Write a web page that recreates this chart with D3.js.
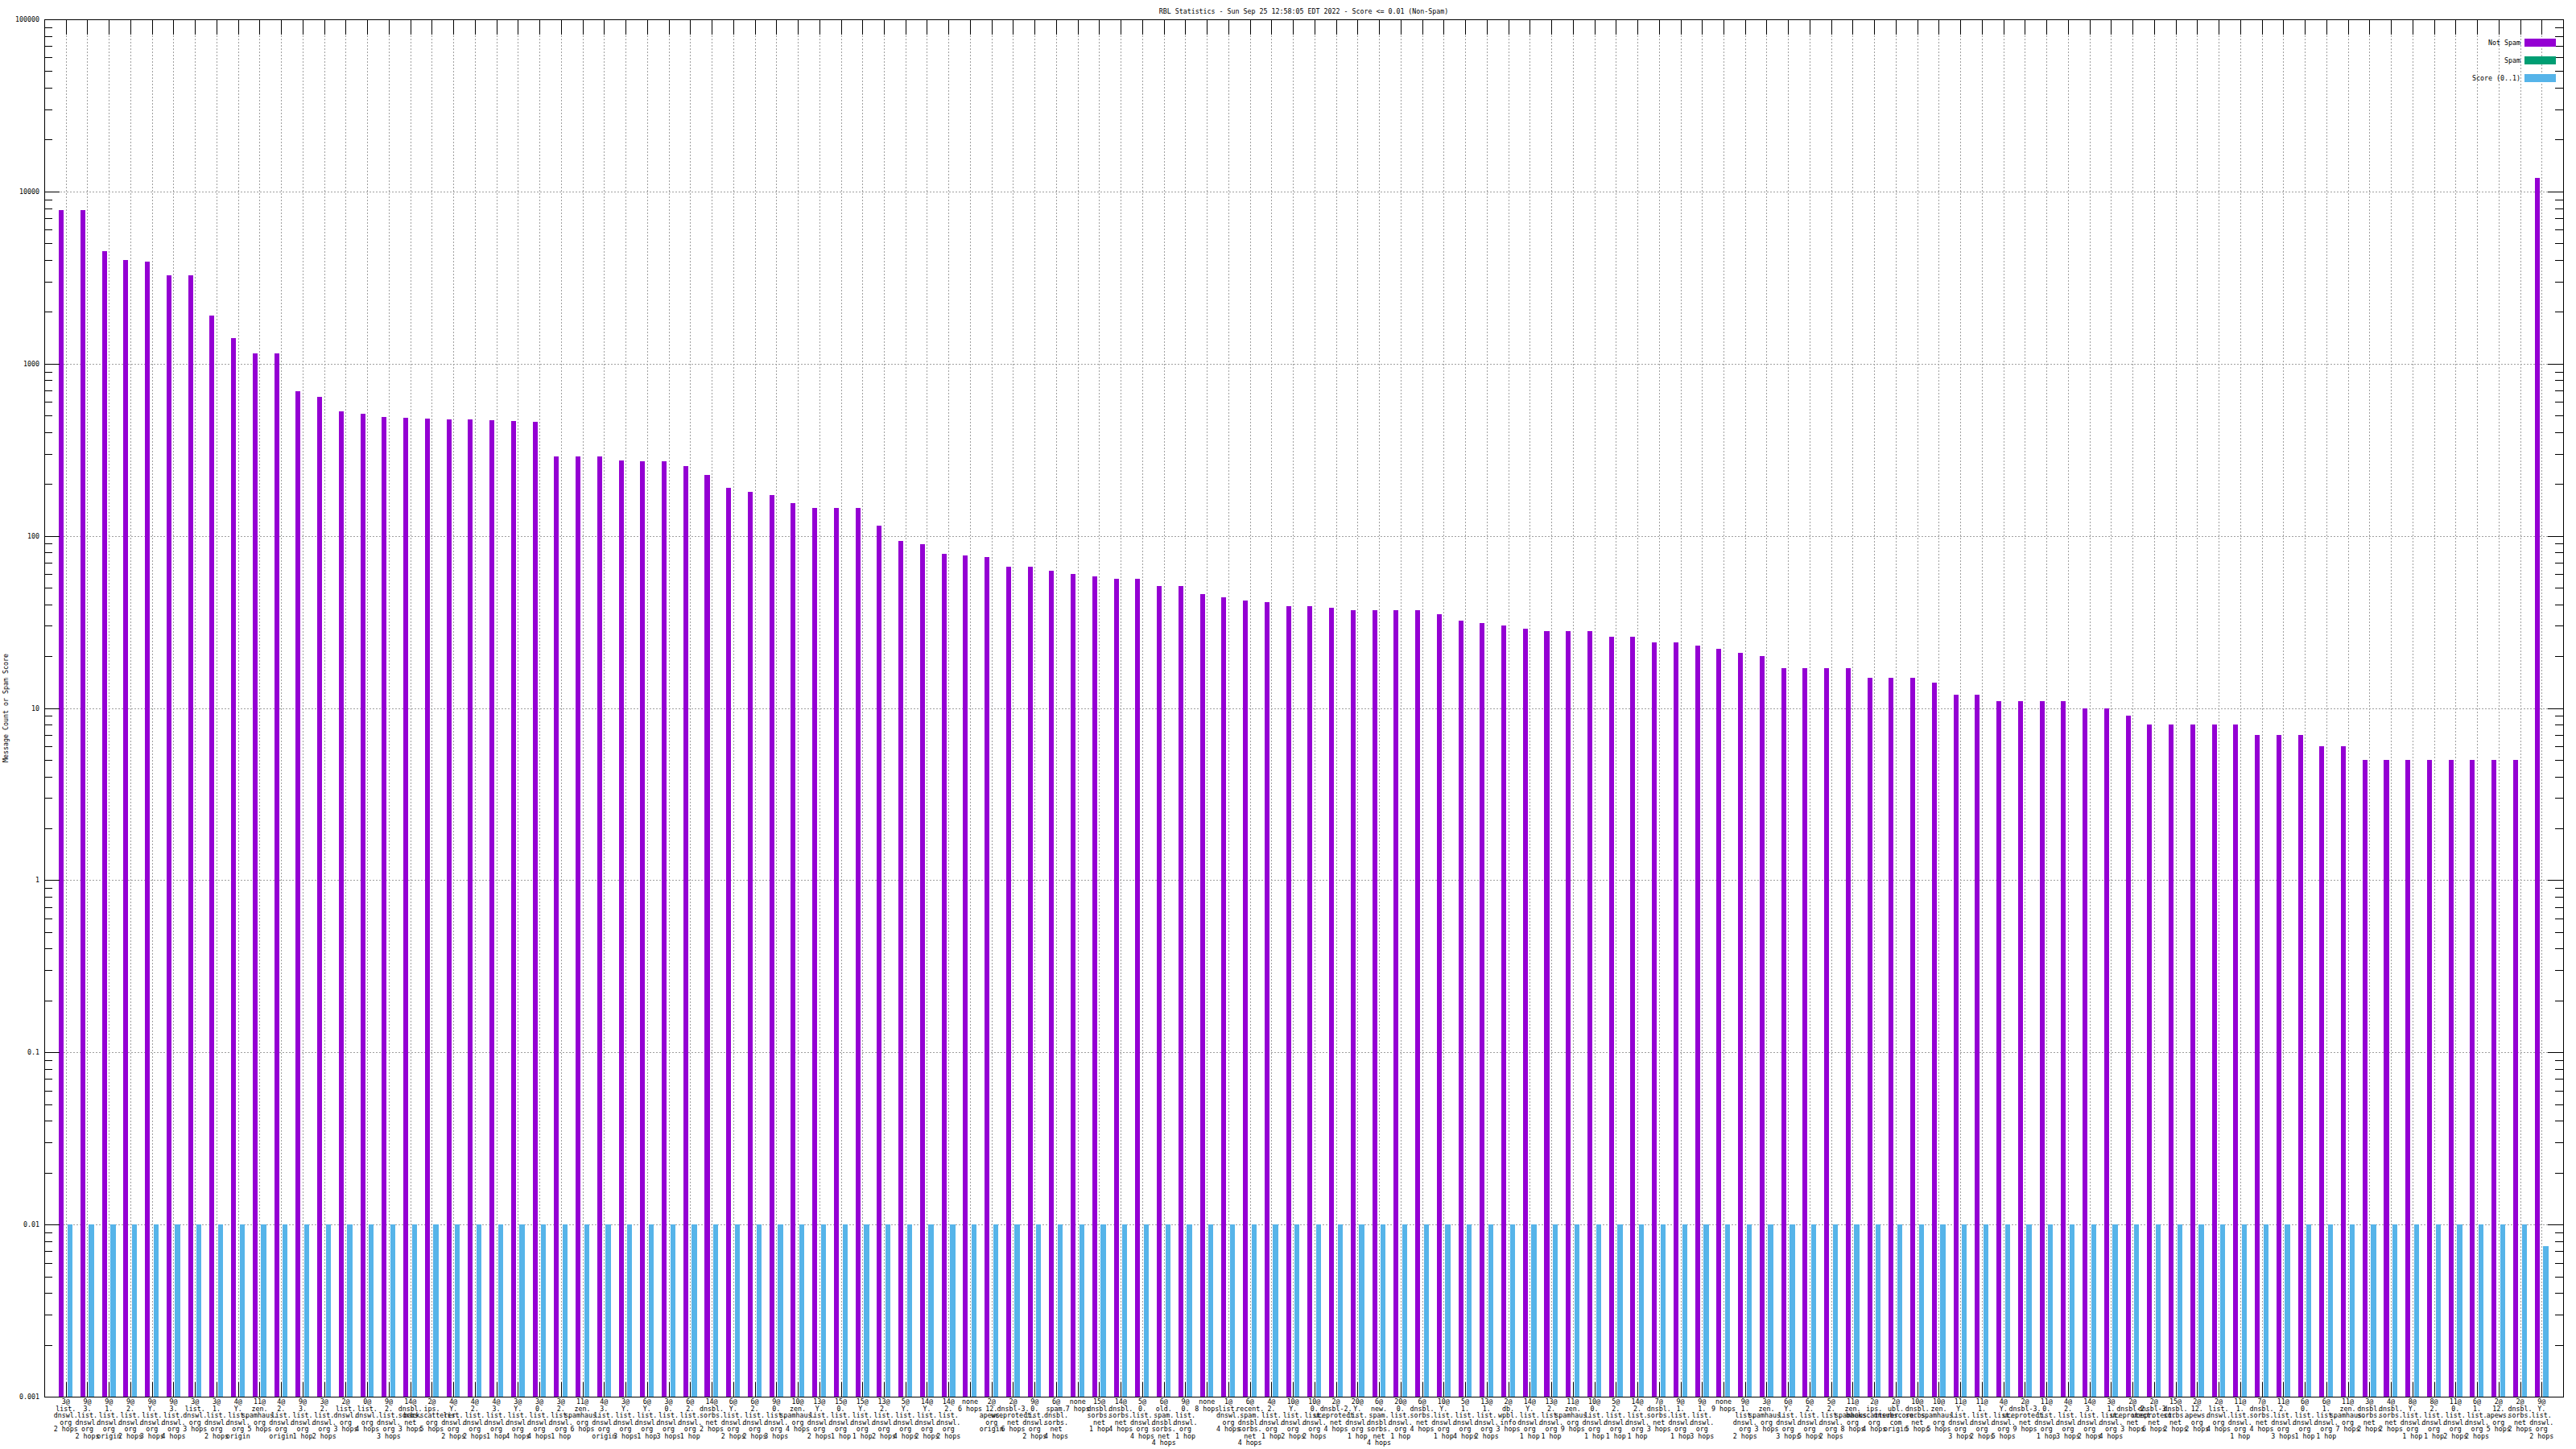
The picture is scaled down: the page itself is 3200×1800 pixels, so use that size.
<!DOCTYPE html>
<html><head><meta charset="utf-8">
<script src="https://cdn.jsdelivr.net/npm/d3@7"></script>
<style>
html,body{margin:0;padding:0;background:#fff;}
svg{display:block;}
text{font-family:"DejaVu Sans Mono","Liberation Mono",monospace;font-size:8.3px;fill:#000;}
</style></head><body>
<svg id="chart" width="3200" height="1800"></svg>
<script>
const title = "RBL Statistics - Sun Sep 25 12:58:05 EDT 2022 - Score <= 0.01 (Non-Spam)";
const yAxisLabel = "Message Count or Spam Score";
const seriesNames = ["Not Spam", "Spam", "Score (0..1)"];
const seriesColors = ["#9400d3", "#009e73", "#56b4e9"];
const yTickValues = [0.001, 0.01, 0.1, 1, 10, 100, 1000, 10000, 100000];
const yTickLabels = ["0.001", "0.01", "0.1", "1", "10", "100", "1000", "10000", "100000"];

const categories = [
"3@|list.|dnswl.|org|2 hops","9@|3.|list.|dnswl.|org|2 hops","9@|1.|list.|dnswl.|org|origin","9@|2.|list.|dnswl.|org|2 hops",
"9@|Y.|list.|dnswl.|org|3 hops","9@|3.|list.|dnswl.|org|4 hops","3@|list.|dnswl.|org|3 hops","3@|1.|list.|dnswl.|org|2 hops",
"4@|Y.|list.|dnswl.|org|origin","11@|zen.|spamhaus.|org|5 hops","4@|2.|list.|dnswl.|org|origin","9@|3.|list.|dnswl.|org|1 hop",
"3@|2.|list.|dnswl.|org|2 hops","2@|list.|dnswl.|org|3 hops","0@|list.|dnswl.|org|4 hops","9@|2.|list.|dnswl.|org|3 hops",
"14@|dnsbl.|sorbs.|net|3 hops","2@|ips.|backscatterer.|org|5 hops","4@|Y.|list.|dnswl.|org|2 hops","4@|2.|list.|dnswl.|org|2 hops",
"4@|3.|list.|dnswl.|org|1 hop","3@|Y.|list.|dnswl.|org|4 hops","3@|0.|list.|dnswl.|org|4 hops","3@|2.|list.|dnswl.|org|1 hop",
"11@|zen.|spamhaus.|org|6 hops","4@|3.|list.|dnswl.|org|origin","3@|Y.|list.|dnswl.|org|3 hops","6@|Y.|list.|dnswl.|org|1 hop",
"3@|0.|list.|dnswl.|org|3 hops","6@|2.|list.|dnswl.|org|1 hop","14@|dnsbl.|sorbs.|net|2 hops","6@|Y.|list.|dnswl.|org|2 hops",
"6@|2.|list.|dnswl.|org|2 hops","9@|0.|list.|dnswl.|org|3 hops","10@|zen.|spamhaus.|org|4 hops","13@|Y.|list.|dnswl.|org|2 hops",
"15@|0.|list.|dnswl.|org|1 hop","15@|Y.|list.|dnswl.|org|1 hop","13@|2.|list.|dnswl.|org|2 hops","5@|Y.|list.|dnswl.|org|4 hops",
"14@|Y.|list.|dnswl.|org|2 hops","14@|2.|list.|dnswl.|org|2 hops","none|6 hops","2@|12.|apews.|org|origin",
"2@|dnsbl-3.|uceprotect.|net|6 hops","9@|0.|list.|dnswl.|org|2 hops","6@|spam.|dnsbl.|sorbs.|net|4 hops","none|7 hops",
"15@|dnsbl.|sorbs.|net|1 hop","14@|dnsbl.|sorbs.|net|4 hops","5@|0.|list.|dnswl.|org|4 hops","6@|old.|spam.|dnsbl.|sorbs.|net|4 hops",
"9@|0.|list.|dnswl.|org|1 hop","none|8 hops","1@|list.|dnswl.|org|4 hops","6@|recent.|spam.|dnsbl.|sorbs.|net|4 hops",
"4@|2.|list.|dnswl.|org|1 hop","10@|Y.|list.|dnswl.|org|2 hops","10@|0.|list.|dnswl.|org|2 hops","2@|dnsbl-2.|uceprotect.|net|4 hops",
"20@|Y.|list.|dnswl.|org|1 hop","6@|new.|spam.|dnsbl.|sorbs.|net|4 hops","20@|0.|list.|dnswl.|org|1 hop","6@|dnsbl.|sorbs.|net|4 hops",
"10@|Y.|list.|dnswl.|org|1 hop","5@|1.|list.|dnswl.|org|4 hops","13@|1.|list.|dnswl.|org|2 hops","2@|db.|wpbl.|info|3 hops",
"14@|Y.|list.|dnswl.|org|1 hop","13@|2.|list.|dnswl.|org|1 hop","11@|zen.|spamhaus.|org|9 hops","10@|0.|list.|dnswl.|org|1 hop",
"5@|2.|list.|dnswl.|org|1 hop","14@|2.|list.|dnswl.|org|1 hop","7@|dnsbl.|sorbs.|net|3 hops","9@|1.|list.|dnswl.|org|1 hop",
"9@|1.|list.|dnswl.|org|3 hops","none|9 hops","9@|1.|list.|dnswl.|org|2 hops","3@|zen.|spamhaus.|org|3 hops",
"6@|Y.|list.|dnswl.|org|3 hops","6@|2.|list.|dnswl.|org|5 hops","5@|2.|list.|dnswl.|org|2 hops","11@|zen.|spamhaus.|org|8 hops",
"2@|ips.|backscatterer.|org|4 hops","2@|ubl.|unsubscore.|com|origin","10@|dnsbl.|sorbs.|net|5 hops","10@|zen.|spamhaus.|org|5 hops",
"11@|Y.|list.|dnswl.|org|3 hops","11@|1.|list.|dnswl.|org|2 hops","4@|Y.|list.|dnswl.|org|5 hops","2@|dnsbl-3.|uceprotect.|net|9 hops",
"11@|0.|list.|dnswl.|org|1 hop","4@|2.|list.|dnswl.|org|3 hops","14@|3.|list.|dnswl.|org|2 hops","3@|1.|list.|dnswl.|org|4 hops",
"2@|dnsbl-2.|uceprotect.|net|3 hops","2@|dnsbl-3.|uceprotect.|net|6 hops","15@|dnsbl.|sorbs.|net|2 hops","2@|12.|apews.|org|2 hops",
"2@|list.|dnswl.|org|4 hops","11@|1.|list.|dnswl.|org|1 hop","7@|dnsbl.|sorbs.|net|4 hops","11@|2.|list.|dnswl.|org|3 hops",
"6@|0.|list.|dnswl.|org|1 hop","6@|1.|list.|dnswl.|org|1 hop","11@|zen.|spamhaus.|org|7 hops","3@|dnsbl.|sorbs.|net|2 hops",
"4@|dnsbl.|sorbs.|net|2 hops","8@|Y.|list.|dnswl.|org|1 hop","8@|2.|list.|dnswl.|org|1 hop","11@|0.|list.|dnswl.|org|2 hops",
"6@|1.|list.|dnswl.|org|2 hops","2@|12.|apews.|org|5 hops","2@|dnsbl.|sorbs.|net|2 hops","9@|Y.|list.|dnswl.|org|2 hops"
];

const notSpam = [
7800,7800,4500,4000,3900,3250,3250,1900,1400,1150,
1150,690,640,530,510,490,485,480,475,475,
470,465,460,290,290,290,275,270,270,255,
225,190,180,172,155,145,145,145,115,93,
89,79,77,75,66,66,63,60,58,56,
56,51,51,46,44,42,41,39,39,38,
37,37,37,37,35,32,31,30,29,28,
28,28,26,26,24,24,23,22,21,20,
17,17,17,17,15,15,15,14,12,12,
11,11,11,11,10,10,9,8,8,8,
8,8,7,7,7,6,6,5,5,5,
5,5,5,5,5,12000
];

const spam = [
0,0,0,0,0,0,0,0,0,0, 0,0,0,0,0,0,0,0,0,0,
0,0,0,0,0,0,0,0,0,0, 0,0,0,0,0,0,0,0,0,0,
0,0,0,0,0,0,0,0,0,0, 0,0,0,0,0,0,0,0,0,0,
0,0,0,0,0,0,0,0,0,0, 0,0,0,0,0,0,0,0,0,0,
0,0,0,0,0,0,0,0,0,0, 0,0,0,0,0,0,0,0,0,0,
0,0,0,0,0,0,0,0,0,0, 0,0,0,0,0,0
];

const score = [
0.01,0.01,0.01,0.01,0.01,0.01,0.01,0.01,0.01,0.01,
0.01,0.01,0.01,0.01,0.01,0.01,0.01,0.01,0.01,0.01,
0.01,0.01,0.01,0.01,0.01,0.01,0.01,0.01,0.01,0.01,
0.01,0.01,0.01,0.01,0.01,0.01,0.01,0.01,0.01,0.01,
0.01,0.01,0.01,0.01,0.01,0.01,0.01,0.01,0.01,0.01,
0.01,0.01,0.01,0.01,0.01,0.01,0.01,0.01,0.01,0.01,
0.01,0.01,0.01,0.01,0.01,0.01,0.01,0.01,0.01,0.01,
0.01,0.01,0.01,0.01,0.01,0.01,0.01,0.01,0.01,0.01,
0.01,0.01,0.01,0.01,0.01,0.01,0.01,0.01,0.01,0.01,
0.01,0.01,0.01,0.01,0.01,0.01,0.01,0.01,0.01,0.01,
0.01,0.01,0.01,0.01,0.01,0.01,0.01,0.01,0.01,0.01,
0.01,0.01,0.01,0.01,0.01,0.0075
];

// ---- layout ----
const L = 55, R = 3184, T = 24, B = 1735;
const svg = d3.select("#chart");
const n = categories.length;
const x = d3.scaleLinear().domain([-1, n]).range([L, R]);
const y = d3.scaleLog().domain([0.001, 100000]).range([B, T]);

const gridColor = "#a0a0a0";
const grid = svg.append("g").attr("shape-rendering", "crispEdges");
// vertical grid at categories
grid.selectAll("line.v").data(d3.range(n)).join("line")
  .attr("x1", i => Math.round(x(i)) + 0.5).attr("x2", i => Math.round(x(i)) + 0.5)
  .attr("y1", T).attr("y2", B)
  .attr("stroke", gridColor).attr("stroke-width", 1).attr("stroke-dasharray", "2,2");
// horizontal grid at decades
grid.selectAll("line.h").data(yTickValues.slice(1, -1)).join("line")
  .attr("x1", L).attr("x2", R)
  .attr("y1", d => Math.round(y(d)) + 0.5).attr("y2", d => Math.round(y(d)) + 0.5)
  .attr("stroke", gridColor).attr("stroke-width", 1).attr("stroke-dasharray", "2,2");

// bars
const barDefs = [
  {vals: notSpam, color: seriesColors[0], a: -0.32, b: -0.095},
  {vals: spam, color: seriesColors[1], a: -0.095, b: 0.075},
  {vals: score, color: seriesColors[2], a: 0.075, b: 0.31}
];
const barsG = svg.append("g").attr("shape-rendering", "crispEdges");
barDefs.forEach(s => {
  barsG.append("g").selectAll("rect").data(s.vals.map((v, i) => ({v, i})).filter(d => d.v > 0)).join("rect")
    .attr("x", d => Math.round(x(d.i + s.a)))
    .attr("width", d => Math.round(x(d.i + s.b)) - Math.round(x(d.i + s.a)))
    .attr("y", d => Math.round(y(d.v)))
    .attr("height", d => B - Math.round(y(d.v)))
    .attr("fill", s.color);
});

// axes frame
const ax = svg.append("g").attr("shape-rendering", "crispEdges").attr("stroke", "#000").attr("stroke-width", 1);
ax.append("rect").attr("x", L + 0.5).attr("y", T + 0.5).attr("width", R - L).attr("height", B - T).attr("fill", "none");

// y ticks major + minor, left and right
const minor = [];
for (let e = -3; e < 5; e++) for (let m = 2; m <= 9; m++) minor.push(m * Math.pow(10, e));
ax.selectAll("line.ymaj").data(yTickValues).join("line")
  .attr("x1", L).attr("x2", L + 19).attr("y1", d => Math.round(y(d)) + 0.5).attr("y2", d => Math.round(y(d)) + 0.5);
ax.selectAll("line.ymajr").data(yTickValues).join("line").attr("class", "ymajr")
  .attr("x1", R - 19).attr("x2", R).attr("y1", d => Math.round(y(d)) + 0.5).attr("y2", d => Math.round(y(d)) + 0.5);
ax.append("g").selectAll("line").data(minor).join("line")
  .attr("x1", L).attr("x2", L + 10).attr("y1", d => Math.round(y(d)) + 0.5).attr("y2", d => Math.round(y(d)) + 0.5);
ax.append("g").selectAll("line").data(minor).join("line")
  .attr("x1", R - 10).attr("x2", R).attr("y1", d => Math.round(y(d)) + 0.5).attr("y2", d => Math.round(y(d)) + 0.5);
// x ticks bottom and top
ax.append("g").selectAll("line").data(d3.range(n)).join("line")
  .attr("x1", i => Math.round(x(i)) + 0.5).attr("x2", i => Math.round(x(i)) + 0.5)
  .attr("y1", B).attr("y2", B - 18);
ax.append("g").selectAll("line").data(d3.range(n)).join("line")
  .attr("x1", i => Math.round(x(i)) + 0.5).attr("x2", i => Math.round(x(i)) + 0.5)
  .attr("y1", T).attr("y2", T + 19);

// y tick labels
svg.append("g").selectAll("text").data(yTickValues).join("text")
  .attr("x", 49).attr("y", d => y(d) + 3)
  .attr("text-anchor", "end")
  .text((d, i) => yTickLabels[i]);

// x tick labels (multi-line)
const xl = svg.append("g");
categories.forEach((c, i) => {
  const t = xl.append("text").attr("text-anchor", "middle");
  c.split("|").forEach((line, k) => {
    t.append("tspan").attr("x", x(i)).attr("y", 1744 + 8.5 * k).text(line);
  });
});

// title
svg.append("text").attr("x", (L + R) / 2).attr("y", 17).attr("text-anchor", "middle").text(title);

// y axis label
svg.append("text").attr("transform", `translate(10,${(T + B) / 2}) rotate(-90)`)
  .attr("text-anchor", "middle").text(yAxisLabel);

// legend
const lg = svg.append("g");
seriesNames.forEach((name, k) => {
  const cy = 53 + 22 * k;
  lg.append("text").attr("x", 3131).attr("y", cy + 3).attr("text-anchor", "end").text(name);
  lg.append("rect").attr("x", 3136).attr("y", cy - 5).attr("width", 39).attr("height", 10)
    .attr("fill", seriesColors[k]).attr("shape-rendering", "crispEdges");
});
</script>
</body></html>
